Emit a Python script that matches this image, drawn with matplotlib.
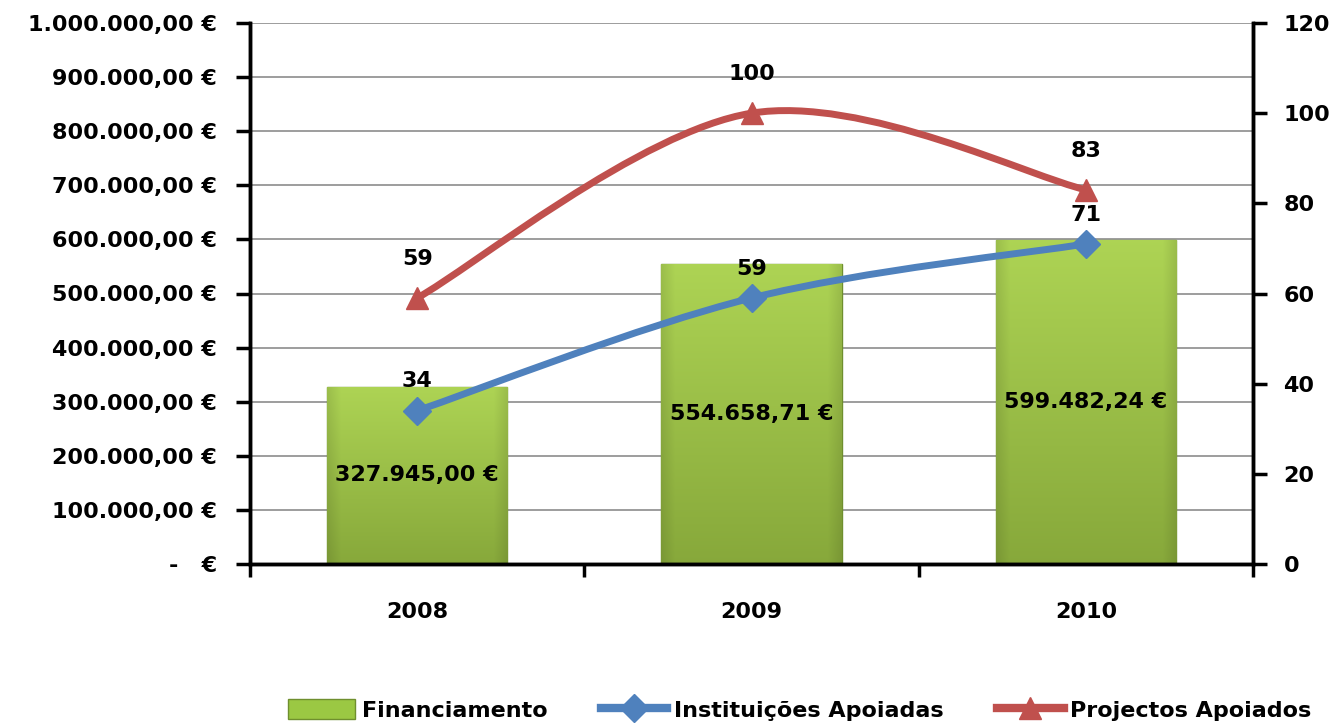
import numpy as np
import matplotlib
matplotlib.use("Agg")
import matplotlib.pyplot as plt
from matplotlib.path import Path
from matplotlib.patches import PathPatch, Patch
from matplotlib.lines import Line2D

years = ["2008", "2009", "2010"]
financiamento = [327945.00, 554658.71, 599482.24]
financiamento_labels = ["327.945,00 €", "554.658,71 €", "599.482,24 €"]
instituicoes = [34, 59, 71]
projectos = [59, 100, 83]
left_ticks = [0, 100000, 200000, 300000, 400000, 500000, 600000, 700000, 800000, 900000, 1000000]
left_tick_labels = ["-   €", "100.000,00 €", "200.000,00 €", "300.000,00 €", "400.000,00 €",
                    "500.000,00 €", "600.000,00 €", "700.000,00 €", "800.000,00 €",
                    "900.000,00 €", "1.000.000,00 €"]
right_ticks = [0, 20, 40, 60, 80, 100, 120]

BLUE = "#4F81BD"
RED = "#C0504D"
FS = 16

plt.rcParams['font.family'] = ['DejaVu Sans']
fig = plt.figure(figsize=(13.4, 7.25), dpi=100)
ax = fig.add_axes([250/1340, 1-564/725, (1253-250)/1340, (564-23)/725])
ax2 = ax.twinx()

x = np.arange(len(years))
bw = 0.54
bars = ax.bar(x, financiamento, width=bw, color="#9BC843", edgecolor="#6F8F2E",
              linewidth=1.0, zorder=2)

# gradient fill for bars (vertical light->dark, darker side edges)
top = np.array([0.68, 0.83, 0.33])
bot = np.array([0.53, 0.66, 0.23])
ny, nx = 200, 120
t = np.linspace(0, 1, ny)[:, None, None]          # 0 at top row
col = top * (1 - t) + bot * t
u = np.linspace(-1, 1, nx)[None, :, None]
shade = 1 - 0.10 * np.clip((np.abs(u) - 0.85) / 0.15, 0, 1)
img = np.clip(col * shade, 0, 1)
for b in bars:
    bx, by, w, h = b.get_x(), b.get_y(), b.get_width(), b.get_height()
    im = ax.imshow(img, extent=[bx, bx + w, by, by + h], aspect='auto',
                   zorder=2.1, interpolation='bilinear', origin='upper')
    im.set_clip_path(b)

ax.set_xlim(-0.5, 2.5)
ax.set_ylim(0, 1000000)
ax.set_yticks(left_ticks)
ax.set_yticklabels(left_tick_labels, fontsize=FS, fontweight='bold')
ax.yaxis.grid(True, color="#8C8C8C", linewidth=1.2, zorder=0)
ax.set_axisbelow(True)

ax.set_xticks([-0.5, 0.5, 1.5, 2.5])
ax.set_xticklabels([])
ax.set_xticks(x, minor=True)
ax.set_xticklabels(years, minor=True, fontsize=FS, fontweight='bold')
ax.tick_params(axis='x', which='major', length=9, width=2.5, direction='out')
ax.tick_params(axis='x', which='minor', length=0, pad=27)
ax.tick_params(axis='y', length=10, width=2.5, direction='out', pad=14)

for sp in ["left", "bottom", "right"]:
    ax.spines[sp].set_linewidth(2.5)
    ax2.spines[sp].set_linewidth(2.5)
ax.spines["top"].set_visible(False)
ax2.spines["top"].set_visible(False)

ax2.set_ylim(0, 120)
ax2.set_yticks(right_ticks)
ax2.set_yticklabels([str(t) for t in right_ticks], fontsize=FS, fontweight='bold')
ax2.tick_params(axis='y', length=10, width=2.5, direction='out', pad=12)

for xi, v, lab in zip(x, financiamento, financiamento_labels):
    ax.text(xi, v/2, lab, ha='center', va='center', fontsize=FS, fontweight='bold', zorder=5)


def smooth_path(xs, ys):
    P = np.column_stack([xs, ys]).astype(float)
    n = len(P)
    verts = [P[0]]
    codes = [Path.MOVETO]
    for i in range(n - 1):
        pm = P[i - 1] if i > 0 else P[i]
        pp = P[i + 2] if i + 2 < n else P[i + 1]
        c1 = P[i] + (P[i + 1] - pm) / 6
        c2 = P[i + 1] - (pp - P[i]) / 6
        verts += [c1, c2, P[i + 1]]
        codes += [Path.CURVE4] * 3
    return Path(verts, codes)

for ys, col_, mk, ms in [(projectos, RED, '^', 16), (instituicoes, BLUE, 'D', 14)]:
    pth = smooth_path(x, ys)
    ax2.add_patch(PathPatch(pth, facecolor='none', edgecolor=col_, linewidth=5,
                            capstyle='round', zorder=3))
    ax2.plot(x, ys, linestyle='none', marker=mk, markersize=ms, color=col_,
             markeredgecolor=col_, zorder=4)

for xi, v in zip(x, projectos):
    ax2.text(xi, v + 6.5, str(v), ha='center', va='bottom', fontsize=FS, fontweight='bold', zorder=5)
for xi, v in zip(x, instituicoes):
    ax2.text(xi, v + 4.3, str(v), ha='center', va='bottom', fontsize=FS, fontweight='bold', zorder=5)

handles = [Patch(facecolor="#9BC843", edgecolor="#6F8F2E"),
           Line2D([0], [0], color=BLUE, lw=6, marker='D', markersize=14),
           Line2D([0], [0], color=RED, lw=6, marker='^', markersize=16)]
labels = ["Financiamento", "Instituições Apoiadas", "Projectos Apoiados"]
fig.legend(handles, labels, loc='center', bbox_to_anchor=(800/1340, 1-710/725), ncol=3,
           frameon=False, prop={'size': 16, 'weight': 'bold'}, columnspacing=2.4,
           handlelength=3.0, handletextpad=0.3, handleheight=1.0)

fig.savefig("out.png", dpi=100)
